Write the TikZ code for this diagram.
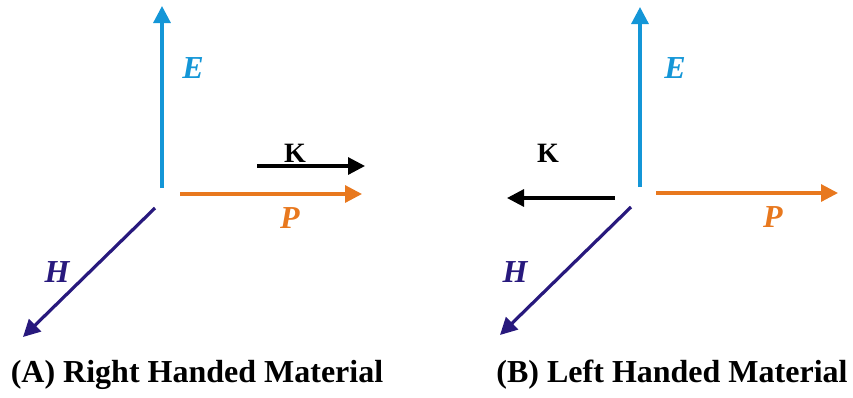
\documentclass[tikz,border=0pt]{standalone}
\usepackage{fontspec}
\setmainfont{Liberation Serif}
\usetikzlibrary{arrows.meta}
\definecolor{ecol}{RGB}{20,150,215}
\definecolor{pcol}{RGB}{232,120,30}
\definecolor{hcol}{RGB}{40,25,125}
\tikzset{
  vec/.style={line width=3.2pt,-{Triangle[length=17pt,width=17pt]}},
  lab/.style={font=\fontsize{32}{34}\selectfont\bfseries\itshape,inner sep=0pt},
  klab/.style={font=\fontsize{28}{30}\selectfont\bfseries,inner sep=0pt},
  captext/.style={font=\fontsize{32}{34}\selectfont\bfseries,inner sep=0pt}
}
\begin{document}
\begin{tikzpicture}[x=1pt,y=-1pt]
\useasboundingbox (0,0) rectangle (853,397);
% Panel A
\coordinate (aE0) at (162,188); \coordinate (aE1) at (162,6);
\coordinate (aK0) at (257,166); \coordinate (aK1) at (365,166);
\coordinate (aP0) at (180,194); \coordinate (aP1) at (362,194);
\coordinate (aH0) at (155,208); \coordinate (aH1) at (23,337);
\draw[vec,ecol] (aE0) -- (aE1);
\draw[vec,black] (aK0) -- (aK1);
\draw[vec,pcol] (aP0) -- (aP1);
\draw[vec,hcol] (aH0) -- (aH1);
\node[lab,text=ecol] (aEl) at (193,68) {E};
\node[klab] (aKl) at (295,153) {K};
\node[lab,text=pcol] (aPl) at (290,218) {P};
\node[lab,text=hcol] (aHl) at (57,272) {H};
\node[captext] (capA) at (197,375) {(A) Right Handed Material};
% Panel B
\coordinate (bE0) at (640,187); \coordinate (bE1) at (640,7);
\coordinate (bK0) at (615,198); \coordinate (bK1) at (507,198);
\coordinate (bP0) at (656,193); \coordinate (bP1) at (838,193);
\coordinate (bH0) at (631,207); \coordinate (bH1) at (500,335);
\draw[vec,ecol] (bE0) -- (bE1);
\draw[vec,black] (bK0) -- (bK1);
\draw[vec,pcol] (bP0) -- (bP1);
\draw[vec,hcol] (bH0) -- (bH1);
\node[lab,text=ecol] (bEl) at (675,68) {E};
\node[klab] (bKl) at (548,153) {K};
\node[lab,text=pcol] (bPl) at (773,217) {P};
\node[lab,text=hcol] (bHl) at (515,272) {H};
\node[captext] (capB) at (672,375) {(B) Left Handed Material};
\end{tikzpicture}
\end{document}
